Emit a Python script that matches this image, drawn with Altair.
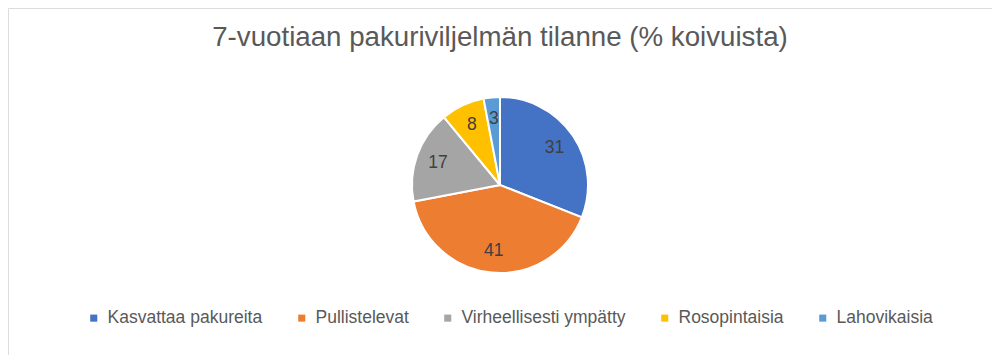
import altair as alt
import pandas as pd

categories = ["Kasvattaa pakureita", "Pullistelevat", "Virheellisesti ympätty", "Rosopintaisia", "Lahovikaisia"]
values = [31, 41, 17, 8, 3]
colors = ["#4472C4", "#ED7D31", "#A5A5A5", "#FFC000", "#5B9BD5"]
title_text = "7-vuotiaan pakuriviljelmän tilanne (% koivuista)"

df = pd.DataFrame({"category": categories, "value": values, "idx": list(range(len(values)))})

FONT = "Liberation Sans"

base = alt.Chart(df).encode(
    theta=alt.Theta("value:Q", stack=True),
    order=alt.Order("idx:Q"),
)

arcs = base.mark_arc(outerRadius=88, stroke="white", strokeWidth=2).encode(
    x=alt.value(492),
    y=alt.value(177),
    color=alt.Color(
        "category:N",
        sort=categories,
        scale=alt.Scale(domain=categories, range=colors),
        legend=alt.Legend(
            title=None,
            orient="none",
            direction="horizontal",
            legendX=77,
            legendY=301,
            symbolType="square",
            symbolSize=50,
            symbolStrokeWidth=0,
            labelFont=FONT,
            labelFontSize=17.5,
            labelColor="#595959",
            labelOffset=5,
            labelLimit=400,
            columnPadding=30,
        ),
    ),
)
labels = base.mark_text(radius=66, font=FONT, fontSize=17.5, color="#404040").encode(
    x=alt.value(492), y=alt.value(177), text=alt.Text("value:Q")
)

chart = (
    alt.layer(arcs, labels)
    .properties(
        width=984,
        height=347,
        padding=0,
        autosize=alt.AutoSizeParams(type="none"),
        title=alt.TitleParams(
            text=title_text,
            orient="top",
            anchor="middle",
            offset=-44,
            font=FONT,
            fontSize=27.7,
            fontWeight="normal",
            color="#595959",
        ),
    )
    .configure_view(stroke="#D9D9D9", strokeWidth=1)
    .configure(background="white")
)

chart.save("out.html", embed_options={"renderer": "svg", "actions": False})
